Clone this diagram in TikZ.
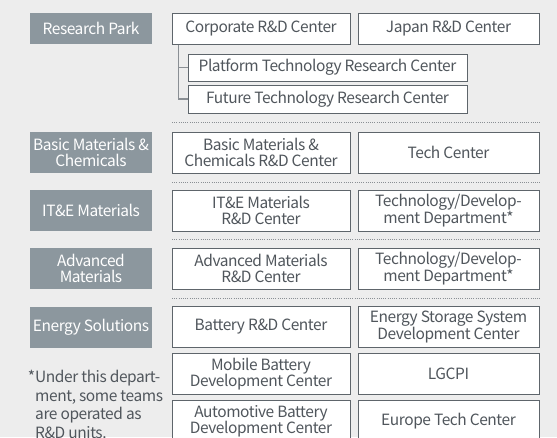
\documentclass[tikz,border=0pt]{standalone}
\usepackage{fontspec}
\setmainfont[LetterSpace=-2.8]{Noto Sans CJK KR}
\definecolor{bg}{HTML}{EDEDED}
\definecolor{deptgray}{HTML}{8C979E}
\definecolor{ink}{HTML}{50565C}
\definecolor{rim}{HTML}{5E656B}
\definecolor{branch}{HTML}{8A8F94}
\begin{document}
\begin{tikzpicture}[x=1pt, y=-1pt,
        dept/.style={fill=deptgray, text=white, inner sep=0pt, align=center,
            minimum width=122pt, minimum height=41pt, font=\fontsize{15.5}{16}\selectfont},
        unit/.style={draw=rim, line width=1pt, fill=white, text=ink, inner sep=0pt, align=center,
            minimum height=41pt, font=\fontsize{15.5}{16}\selectfont},
        left unit/.style={unit, minimum width=178pt},
        right unit/.style={unit, minimum width=181pt},
        sep/.style={draw=branch, line width=0.8pt, dash pattern=on 0.8pt off 1.4pt}]
        \useasboundingbox (0,0) rectangle (557,437);
        \clip (0,0) rectangle (557,437);
        \fill[bg] (0,0) rectangle (557,437);

        \node[dept, minimum height=31pt] (park) at (91,28.5) {Research Park};
        \node[dept] (basic) at (91,152.5) {Basic Materials \&\\Chemicals};
        \node[dept] (ite) at (91,210.5) {IT\&E Materials};
        \node[dept] (adv) at (91,268.5) {Advanced\\Materials};
        \node[dept] (energy) at (91,327) {Energy Solutions};

        \node[left unit, minimum height=31pt] (corp) at (261,28.5) {Corporate R\&D Center};
        \node[right unit, minimum height=31pt] (japan) at (448.5,28.5) {Japan R\&D Center};
        \node[unit, minimum width=279pt, minimum height=27pt] (platform) at (327.5,67.5) {Platform Technology Research Center};
        \node[unit, minimum width=279pt, minimum height=28pt] (future) at (327.5,99) {Future Technology Research Center};

        \node[left unit] (basicrd) at (261,152.5) {Basic Materials \&\\Chemicals R\&D Center};
        \node[right unit] (tech) at (448.5,152.5) {Tech Center};
        \node[left unit] (iterd) at (261,210.5) {IT\&E Materials\\R\&D Center};
        \node[right unit] (itedept) at (448.5,210.5) {Technology/Develop-\\ment Department*};
        \node[left unit] (advrd) at (261,268.5) {Advanced Materials\\R\&D Center};
        \node[right unit] (advdept) at (448.5,268.5) {Technology/Develop-\\ment Department*};
        \node[left unit] (battery) at (261,327) {Battery R\&D Center};
        \node[right unit] (ess) at (448.5,327) {Energy Storage System\\Development Center};
        \node[left unit] (mobile) at (261,374) {Mobile Battery\\Development Center};
        \node[right unit] (lgcpi) at (448.5,374) {LGCPI};
        \node[left unit] (auto) at (261,421) {Automotive Battery\\Development Center};
        \node[right unit] (europe) at (448.5,421) {Europe Tech Center};

        \coordinate (trunk) at ([xshift=7pt]corp.south west);
        \draw[branch, line width=1.2pt] (trunk) |- (future.west);
        \draw[branch, line width=1.2pt] (trunk |- platform.west) -- (platform.west);

        \draw[sep] (172,122) -- (540,122);
        \draw[sep] (172,182) -- (540,182);
        \draw[sep] (172,239.5) -- (540,239.5);
        \draw[sep] (172,298) -- (540,298);

        \node[anchor=north west, text=ink, align=left, inner sep=0pt,
            font=\fontsize{15.5}{18.5}\selectfont] (note) at (35,370)
            {\llap{*}Under this depart-\\ment, some teams\\are operated as\\R\&D units.};
\end{tikzpicture}
\end{document}
